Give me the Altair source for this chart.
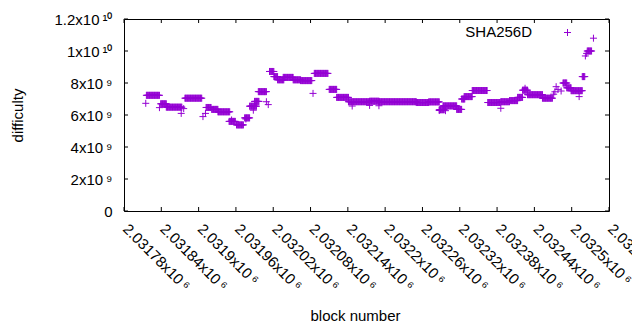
import json
import altair as alt
import pandas as pd

# ---- data (block number runs at a constant difficulty, x1e9) ----
run_start = [2031815, 2031816, 2031837, 2031839, 2031848, 2031872, 2031876, 2031878, 2031907, 2031911,
             2031912, 2031921, 2031931, 2031949, 2031953, 2031961, 2031974, 2031976, 2031982, 2031988,
             2031990, 2031996, 2032009, 2032012, 2032014, 2032021, 2032027, 2032036, 2032052, 2032064,
             2032084, 2032086, 2032110, 2032122, 2032141, 2032147, 2032175, 2032175, 2032190, 2032190,
             2032250, 2032270, 2032287, 2032287, 2032293, 2032297, 2032315, 2032323, 2032327, 2032340,
             2032365, 2032386, 2032386, 2032400, 2032413, 2032421, 2032425, 2032429, 2032453, 2032471,
             2032473, 2032475, 2032478, 2032483, 2032486, 2032492, 2032499, 2032512, 2032517, 2032522,
             2032524, 2032525, 2032535]
run_end = [2031815, 2031837, 2031837, 2031848, 2031873, 2031872, 2031876, 2031905, 2031907, 2031911,
           2031920, 2031931, 2031950, 2031959, 2031953, 2031972, 2031982, 2031976, 2031993, 2031988,
           2031997, 2032009, 2032009, 2032012, 2032021, 2032027, 2032037, 2032052, 2032064, 2032082,
           2032084, 2032108, 2032122, 2032141, 2032175, 2032147, 2032190, 2032175, 2032190, 2032250,
           2032270, 2032287, 2032287, 2032295, 2032315, 2032297, 2032323, 2032328, 2032340, 2032364,
           2032385, 2032386, 2032400, 2032413, 2032421, 2032429, 2032425, 2032453, 2032469, 2032471,
           2032473, 2032475, 2032478, 2032483, 2032492, 2032499, 2032517, 2032512, 2032521, 2032522,
           2032524, 2032532, 2032535]
run_diff = [6.73, 7.23, 6.46, 6.70, 6.49, 6.10, 6.40, 7.05, 5.90, 6.10,
            6.47, 6.35, 6.20, 5.60, 5.69, 5.38, 5.82, 5.75, 6.55, 6.30,
            6.85, 7.46, 6.83, 6.65, 8.72, 8.40, 8.20, 8.35, 8.20, 8.15,
            7.35, 8.60, 7.60, 7.10, 6.83, 6.56, 6.86, 6.60, 6.58, 6.83,
            6.78, 6.82, 6.28, 6.33, 6.57, 6.27, 6.35, 7.00, 7.15, 7.53,
            6.78, 6.42, 6.83, 6.90, 7.10, 7.55, 7.67, 7.27, 7.05, 7.30,
            7.45, 7.77, 7.60, 7.50, 8.00, 7.70, 7.52, 7.15, 8.40, 9.69,
            9.85, 10.00, 10.80]

series_name = "SHA256D"

x_tick_values = [2031780, 2031840, 2031900, 2031960, 2032020, 2032080, 2032140,
                 2032200, 2032260, 2032320, 2032380, 2032440, 2032500, 2032560]
x_tick_labels = ["2.03178x10\u2009⁶", "2.03184x10\u2009⁶", "2.0319x10\u2009⁶", "2.03196x10\u2009⁶",
                 "2.03202x10\u2009⁶", "2.03208x10\u2009⁶", "2.03214x10\u2009⁶", "2.0322x10\u2009⁶",
                 "2.03226x10\u2009⁶", "2.03232x10\u2009⁶", "2.03238x10\u2009⁶", "2.03244x10\u2009⁶",
                 "2.0325x10\u2009⁶", "2.03256x10\u2009⁶"]
y_tick_values = [0, 2e9, 4e9, 6e9, 8e9, 1e10, 1.2e10]
y_tick_labels = ["0", "2x10\u2009⁹", "4x10\u2009⁹", "6x10\u2009⁹", "8x10\u2009⁹", "1x10\u2009¹⁰",
                 "1.2x10\u2009¹⁰"]

# ---- build table ----
rows = []
for s, e, d in zip(run_start, run_end, run_diff):
    for b in range(s, e + 1):
        rows.append({"block": b, "difficulty": d * 1e9})
df = pd.DataFrame(rows)

W, H = 485, 192
FONT = "Liberation Sans"
PURPLE = "#9400d3"
PLUS = "M-1,0L1,0M0,-1L0,1"

def label_expr(values, labels):
    return "%s[indexof(%s, datum.value)]" % (json.dumps(labels, ensure_ascii=False), json.dumps(values))

xs = alt.Scale(domain=[x_tick_values[0], x_tick_values[-1]], nice=False, zero=False)
ys = alt.Scale(domain=[y_tick_values[0], y_tick_values[-1]], nice=False, zero=False)

x_axis = alt.Axis(values=x_tick_values, labelExpr=label_expr(x_tick_values, x_tick_labels),
                  labelAngle=45, labelAlign="left", labelBaseline="top", labelPadding=10,
                  labelOffset=6,
                  ticks=False, domain=False, grid=False, labelOverlap=False, labelFlush=False,
                  labelFont=FONT, labelFontSize=15, labelColor="black",
                  titleFont=FONT, titleFontSize=15, titleFontWeight="normal", titleColor="black",
                  titleX=231, titleY=109, titleAlign="center", titleBaseline="alphabetic")
y_axis = alt.Axis(values=y_tick_values, labelExpr=label_expr(y_tick_values, y_tick_labels),
                  ticks=False, domain=False, grid=False, labelPadding=12, labelOverlap=False,
                  labelFlush=False, labelFont=FONT, labelFontSize=15, labelColor="black",
                  titleFont=FONT, titleFontSize=15, titleFontWeight="normal", titleColor="black",
                  titleAngle=270, titleX=-107, titleY=96, titleAlign="center", titleBaseline="middle")

X_ENC = alt.X("block:Q", scale=xs, axis=x_axis, title="block number")
Y_ENC = alt.Y("difficulty:Q", scale=ys, axis=y_axis, title="difficulty")

points = alt.Chart(df).mark_point(shape=PLUS, size=49, filled=False, color=PURPLE,
                                  strokeWidth=1, opacity=1).encode(x=X_ENC, y=Y_ENC)

xt = pd.DataFrame({"block": x_tick_values})
yt = pd.DataFrame({"difficulty": y_tick_values})
TL = 4
tick_bottom = alt.Chart(xt).mark_rule(color="black", strokeWidth=1).encode(
    x=X_ENC, y=alt.value(H - TL), y2=alt.value(H))
tick_top = alt.Chart(xt).mark_rule(color="black", strokeWidth=1).encode(
    x=X_ENC, y=alt.value(0), y2=alt.value(TL))
tick_left = alt.Chart(yt).mark_rule(color="black", strokeWidth=1).encode(
    y=Y_ENC, x=alt.value(0), x2=alt.value(TL))
tick_right = alt.Chart(yt).mark_rule(color="black", strokeWidth=1).encode(
    y=Y_ENC, x=alt.value(W - TL), x2=alt.value(W))

key_df = pd.DataFrame({"label": [series_name]})
key_text = alt.Chart(key_df).mark_text(align="right", baseline="middle", font=FONT, fontSize=15,
                                       color="black").encode(
    text="label:N", x=alt.value(408), y=alt.value(13))
key_sym = alt.Chart(key_df).mark_point(shape=PLUS, size=49, filled=False, color=PURPLE,
                                       strokeWidth=1, opacity=1).encode(
    x=alt.value(443.5), y=alt.value(13.5))

chart = alt.layer(points, tick_bottom, tick_top, tick_left, tick_right, key_text, key_sym).properties(
    width=W, height=H,
    autosize=alt.AutoSizeParams(type="none"),
    padding={"left": 116, "top": 11, "right": 23, "bottom": 111},
    background="white",
).configure_view(stroke="black", strokeWidth=1)

chart.save("out.html", embed_options={"renderer": "svg", "actions": False})
